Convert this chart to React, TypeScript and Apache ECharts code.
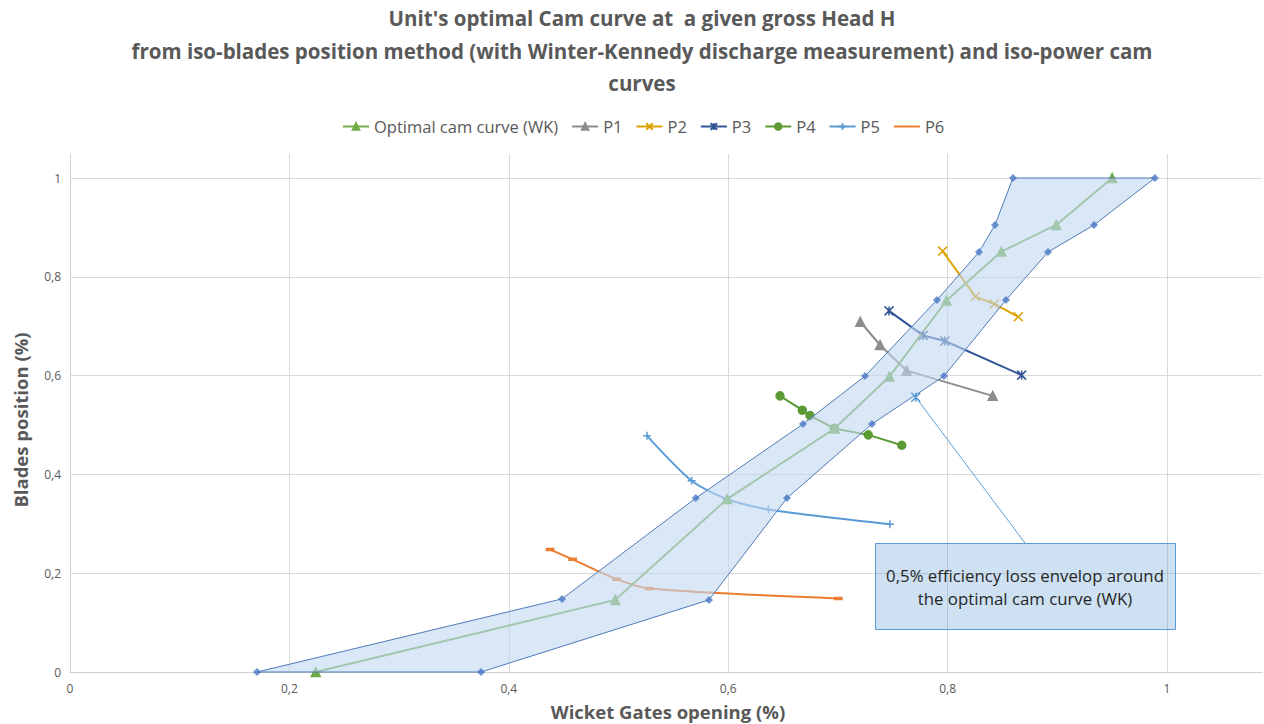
import React, { useEffect, useRef } from "react";
import * as echarts from "echarts";

// ---------- data ----------
const optimalX = [0.224, 0.497, 0.599, 0.697, 0.747, 0.799, 0.849, 0.899, 0.95];
const optimalY = [0, 0.146, 0.35, 0.493, 0.598, 0.752, 0.851, 0.905, 1.0];

const p1X = [0.7204, 0.7384, 0.7627, 0.8411];
const p1Y = [0.709, 0.662, 0.61, 0.559];

const p2X = [0.7955, 0.8253, 0.8426, 0.8645];
const p2Y = [0.852, 0.76, 0.745, 0.719];

const p3X = [0.7466, 0.7779, 0.7976, 0.8675];
const p3Y = [0.731, 0.681, 0.67, 0.601];

const p4X = [0.6472, 0.6676, 0.6746, 0.6967, 0.7277, 0.7582];
const p4Y = [0.559, 0.53, 0.519, 0.493, 0.48, 0.459];

const p5X = [0.526, 0.5667, 0.5986, 0.6366, 0.7475];
const p5Y = [0.478, 0.387, 0.35, 0.329, 0.299];

const p6X = [0.4376, 0.4582, 0.4983, 0.5281, 0.7004];
const p6Y = [0.248, 0.228, 0.188, 0.169, 0.149];

// 0,5% efficiency loss envelope: upper-left edge and lower-right edge (bottom to top)
const envUpperX = [0.1705, 0.4485, 0.5704, 0.6682, 0.7247, 0.7903, 0.8286, 0.8432, 0.8596];
const envUpperY = [0, 0.148, 0.352, 0.502, 0.599, 0.753, 0.85, 0.905, 1.0];
const envLowerX = [0.3747, 0.5825, 0.6536, 0.731, 0.7967, 0.8532, 0.8915, 0.9335, 0.989];
const envLowerY = [0, 0.146, 0.352, 0.502, 0.599, 0.753, 0.85, 0.905, 1.0];

// callout anchor and end (data coordinates)
const calloutX = [0.771, 0.8706];
const calloutY = [0.556, 0.261];

const seriesNames = ["Optimal cam curve (WK)", "P1", "P2", "P3", "P4", "P5", "P6"];

const titleLines = [
  "Unit's optimal Cam curve at  a given gross Head H",
  "from iso-blades position method (with Winter-Kennedy discharge measurement) and iso-power cam",
  "curves",
];
const xAxisTitle = "Wicket Gates opening (%)";
const yAxisTitle = "Blades position (%)";
const calloutText = ["0,5% efficiency loss envelop around", "the optimal cam curve (WK)"];

const X_MIN = 0;
const X_MAX = 1.0866;
const Y_MIN = 0;
const Y_MAX = 1.0486;
const TICK = 0.2;

// ---------- helpers ----------
const zip = (xs: number[], ys: number[]) => xs.map((x, i) => [x, ys[i]]);
const FONT = '"Open Sans", "Noto Sans", sans-serif';
const crossPath = "path://M0,0L10,10M10,0L0,10";
const plusPath = "path://M5,0L5,10M0,5L10,5";
const starPath = "path://M0,0L10,10M10,0L0,10M5,0L5,10";
const fmt = (v: number) => String(Math.round(v * 10) / 10).replace(".", ",");

function lineSeries(name: string, data: any[], color: string, symbol: string, symbolSize: any, extra: any = {}) {
  return {
    name,
    type: "line",
    data,
    symbol,
    symbolSize,
    showSymbol: true,
    lineStyle: { color, width: 2 },
    itemStyle: { color, borderColor: color, borderWidth: 1.5 },
    z: 2,
    ...extra,
  };
}

export default function App() {
  const ref = useRef<HTMLDivElement>(null);

  useEffect(() => {
    if (!ref.current) return;
    const chart = echarts.init(ref.current, undefined, { renderer: "svg" });

    const envPolygon = [...zip(envUpperX, envUpperY), ...zip(envLowerX, envLowerY).reverse()];
    const p6Data = zip(p6X, p6Y).map((v) => ({ value: v, symbol: "rect", symbolSize: [5, 2] }));

    const legendData = seriesNames.map((n) =>
      n === "P6" ? { name: n, itemStyle: { opacity: 0 } } : { name: n }
    );

    const option: any = {
      animation: false,
      backgroundColor: "#ffffff",
      textStyle: { fontFamily: FONT },
      grid: { left: 70, right: 2, top: 154, bottom: 52, containLabel: false },
      legend: {
        data: legendData,
        left: 337,
        top: 113,
        itemWidth: 26,
        itemHeight: 8,
        itemGap: 13,
        textStyle: { fontSize: 16.5, color: "#595959", fontFamily: FONT },
      },
      xAxis: {
        type: "value",
        min: X_MIN,
        max: X_MAX,
        interval: TICK,
        axisLine: { show: true, onZero: false, lineStyle: { color: "#cfcfcf", width: 1 } },
        axisTick: { show: false },
        axisLabel: { formatter: fmt, showMaxLabel: false, color: "#595959", fontSize: 12, margin: 10, fontFamily: FONT },
        splitLine: { show: true, showMinLine: false, showMaxLine: false, lineStyle: { color: "#d9d9d9", width: 1 } },
      },
      yAxis: {
        type: "value",
        min: Y_MIN,
        max: Y_MAX,
        interval: TICK,
        axisLine: { show: true, onZero: false, lineStyle: { color: "#cfcfcf", width: 1 } },
        axisTick: { show: false },
        axisLabel: { formatter: fmt, showMaxLabel: false, color: "#595959", fontSize: 12, margin: 9, fontFamily: FONT },
        splitLine: { show: true, showMinLine: false, showMaxLine: false, lineStyle: { color: "#d9d9d9", width: 1 } },
      },
      series: [
        lineSeries("P6", p6Data, "#ed7d31", "none", 0, { smooth: 0.3 }),
        lineSeries("P5", zip(p5X, p5Y), "#5b9bd5", plusPath, 8, { smooth: 0.25 }),
        lineSeries("P4", zip(p4X, p4Y), "#5b9a35", "circle", 8),
        lineSeries("P3", zip(p3X, p3Y), "#2f5597", starPath, 9),
        lineSeries("P2", zip(p2X, p2Y), "#dba300", crossPath, 9),
        lineSeries("P1", zip(p1X, p1Y), "#8c8c8c", "triangle", 9),
        lineSeries("Optimal cam curve (WK)", zip(optimalX, optimalY), "#70ad47", "triangle", 9),
        {
          name: "envelope",
          type: "custom",
          coordinateSystem: "cartesian2d",
          data: [[0.5, 0.5]],
          encode: { x: 0, y: 1 },
          silent: true,
          z: 3,
          renderItem: (_params: any, api: any) => {
            const pts = envPolygon.map((p) => api.coord(p));
            return {
              type: "polygon",
              shape: { points: pts },
              style: { fill: "rgba(193,215,242,0.6)", stroke: "#4f7bb8", lineWidth: 1 },
            };
          },
        },
        {
          name: "envelope points",
          type: "scatter",
          data: [...zip(envUpperX, envUpperY), ...zip(envLowerX, envLowerY)],
          symbol: "diamond",
          symbolSize: 8,
          itemStyle: { color: "#4a78c4" },
          silent: true,
          z: 4,
        },
        {
          name: "callout",
          type: "line",
          data: [
            { value: [calloutX[0], calloutY[0]], symbol: starPath, symbolSize: 9 },
            { value: [calloutX[1], calloutY[1]], symbol: "none" },
          ],
          lineStyle: { color: "#5b9bd5", width: 1 },
          itemStyle: { color: "#5b9bd5", borderColor: "#5b9bd5", borderWidth: 1.5 },
          silent: true,
          z: 4,
        },
      ],
      graphic: [
        {
          type: "text",
          x: 642,
          y: 2,
          z: 10,
          style: {
            text: titleLines.join("\n"),
            textAlign: "center",
            textVerticalAlign: "top",
            fontSize: 20.5,
            fontWeight: "bold",
            fontFamily: FONT,
            lineHeight: 32.5,
            fill: "#595959",
          },
        },
        {
          type: "text",
          x: 668,
          y: 711,
          z: 10,
          style: {
            text: xAxisTitle,
            textAlign: "center",
            textVerticalAlign: "middle",
            fontSize: 18.5,
            fontWeight: "bold",
            fontFamily: FONT,
            fill: "#595959",
          },
        },
        {
          type: "text",
          x: 20,
          y: 420,
          rotation: Math.PI / 2,
          z: 10,
          style: {
            text: yAxisTitle,
            textAlign: "center",
            textVerticalAlign: "middle",
            fontSize: 18.5,
            fontWeight: "bold",
            fontFamily: FONT,
            fill: "#595959",
          },
        },
        {
          type: "rect",
          z: 20,
          shape: { x: 875.5, y: 543.5, width: 300, height: 86 },
          style: { fill: "rgba(91,155,213,0.3)", stroke: "#5b9bd5", lineWidth: 1 },
        },
        {
          type: "text",
          x: 1025,
          y: 587,
          z: 21,
          style: {
            text: calloutText.join("\n"),
            textAlign: "center",
            textVerticalAlign: "middle",
            fontSize: 16.8,
            fontFamily: FONT,
            lineHeight: 23,
            fill: "#262626",
          },
        },
      ],
    };

    chart.setOption(option);
    return () => chart.dispose();
  }, []);

  return <div ref={ref} style={{ position: "fixed", left: 0, top: 0, width: 1264, height: 724 }} />;
}
